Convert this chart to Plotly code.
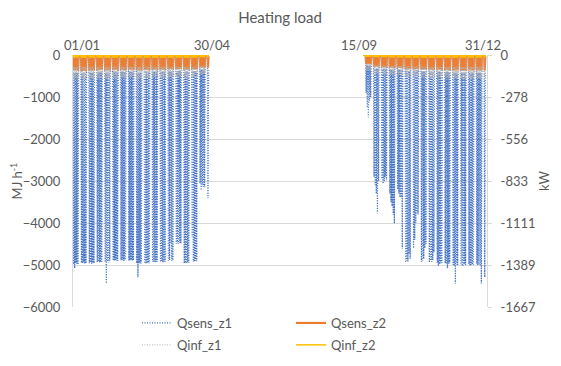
import datetime as dt
import plotly.graph_objects as go

BASE = dt.date(2018, 1, 1)

# Heating seasons (plant operates Monday-Friday, off at weekends)
spring_first, spring_last = dt.date(2018, 1, 1), dt.date(2018, 4, 30)
autumn_first, autumn_last = dt.date(2018, 9, 15), dt.date(2018, 12, 31)

# ---- Qsens_z1 : daily minimum (MJ/h) for each week, Mon..Fri ----
qsens_z1_min_spring = [
    [-4980, -5080, -4950, -4970, -4990],
    [-4950, -4960, -4940, -4970, -4960],
    [-4960, -4940, -4970, -4950, -4960],
    [-4930, -4920, -4940, -4930, -4920],
    [-4930, -5440, -4920, -4940, -4900],
    [-4890, -4900, -4880, -4890, -4900],
    [-4890, -4880, -4900, -4890, -4880],
    [-4900, -4890, -4880, -4900, -4890],
    [-4960, -5290, -4950, -4970, -4960],
    [-4960, -4970, -4960, -4950, -4960],
    [-4930, -4940, -4930, -4920, -4930],
    [-4930, -4920, -4940, -4930, -4920],
    [-4900, -4880, -4490, -4900, -4890],
    [-4490, -4480, -4500, -4470, -4490],
    [-4960, -4950, -4960, -4940, -4950],
    [-4340, -4930, -4920, -4900, -4910],
    [-3060, -3220, -3100, -3140, -3150],
    [-3410],
]
qsens_z1_min_autumn = [
    [-900, -1250, -1480, -1100, -1000],
    [-2900, -3100, -3300, -3770, -3000],
    [-2950, -3060, -3000, -2900, -2980],
    [-3300, -3500, -3600, -3800, -4010],
    [-3200, -3300, -3390, -3390, -4610],
    [-4940, -4900, -4920, -4730, -4850],
    [-4600, -4400, -4000, -3770, -3800],
    [-4920, -4900, -4850, -4600, -4500],
    [-4940, -4900, -4920, -4880, -4700],
    [-4950, -5020, -4980, -4960, -4950],
    [-4960, -4980, -5080, -4970, -4960],
    [-5000, -5020, -5440, -4990, -5000],
    [-4990, -5020, -5010, -4980, -5000],
    [-4980, -5020, -5000, -4990, -5010],
    [-4980, -5000, -4990, -5020, -5440],
    [-5290],
]
# Qsens_z1 : daily upper level per week
qsens_z1_top_spring = [-420, -430, -420, -410, -420, -410, -400, -400, -420, -410,
                       -400, -400, -390, -380, -400, -380, -350, -360]
qsens_z1_top_autumn = [-250, -330, -330, -350, -350, -380, -370, -390, -400, -400,
                       -410, -420, -420, -420, -420, -420]

# ---- Qsens_z2 : weekly low / high (MJ/h) ----
qsens_z2_min_spring = [-370, -380, -370, -360, -370, -360, -360, -350, -370, -360,
                       -350, -350, -340, -330, -350, -330, -300, -300]
qsens_z2_top_spring = [-20, -20, -20, -20, -20, -20, -20, -20, -20, -20,
                       -20, -20, -20, -20, -20, -20, -20, -20]
qsens_z2_min_autumn = [-220, -280, -290, -310, -310, -340, -330, -340, -350, -350,
                       -360, -370, -370, -370, -370, -370]
qsens_z2_top_autumn = [-20, -20, -20, -20, -20, -20, -20, -20, -20, -20,
                       -20, -20, -20, -20, -20, -20]

# ---- Qinf_z1 : weekly low / high (MJ/h) ----
qinf_z1_min_spring = [-560, -570, -560, -550, -560, -550, -540, -540, -560, -550,
                      -540, -540, -530, -520, -540, -520, -460, -480]
qinf_z1_top_spring = [-280, -280, -280, -280, -280, -280, -280, -280, -280, -280,
                      -280, -280, -280, -280, -280, -280, -260, -260]
qinf_z1_min_autumn = [-360, -440, -440, -470, -470, -510, -500, -520, -540, -540,
                      -540, -550, -550, -550, -560, -560]
qinf_z1_top_autumn = [-200, -240, -250, -260, -260, -270, -270, -280, -280, -280,
                      -280, -280, -280, -280, -280, -280]

# ---- Qinf_z2 : weekly low / high (MJ/h) ----
qinf_z2_min_spring = [-60, -60, -60, -60, -60, -60, -60, -60, -60, -60,
                      -60, -60, -60, -60, -60, -60, -50, -50]
qinf_z2_top_spring = [0, 0, 0, 0, 0, 0, 0, 0, 0, 0, 0, 0, 0, 0, 0, 0, 0, 0]
qinf_z2_min_autumn = [-40, -50, -50, -55, -55, -60, -60, -60, -60, -60,
                      -60, -60, -60, -60, -60, -60]
qinf_z2_top_autumn = [0, 0, 0, 0, 0, 0, 0, 0, 0, 0, 0, 0, 0, 0, 0, 0]

# Axis labels
date_labels = ["01/01", "30/04", "15/09", "31/12"]
label_dates = [dt.date(2018, 1, 1), dt.date(2018, 4, 30), dt.date(2018, 9, 15), dt.date(2018, 12, 31)]
label_xshift = [8, 4, -5, -2]
mj_ticks = [0, -1000, -2000, -3000, -4000, -5000, -6000]
kw_tick_labels = ["0", "-278", "-556", "-833", "-1111", "-1389", "-1667"]
MJ_PER_KWH = 3.6


def season(first, last, week_min, week_top, daily):
    xs, ys = [], []
    first_monday = first + dt.timedelta(days=(7 - first.weekday()) % 7)
    d = first
    while d <= last:
        doy = (d - BASE).days
        wd = d.weekday()
        if wd >= 5:
            xs += [doy + 0.02, doy + 0.98]
            ys += [0, 0]
        else:
            w = (d - first_monday).days // 7
            low = week_min[w][wd] if daily else week_min[w]
            top = week_top[w]
            xs += [doy + 0.02, doy + 0.5, doy + 0.98]
            ys += [top, low, top]
        d += dt.timedelta(days=1)
    return xs, ys


def full_series(mins_s, tops_s, mins_a, tops_a, daily=False):
    x1, y1 = season(spring_first, spring_last, mins_s, tops_s, daily)
    x2, y2 = season(autumn_first, autumn_last, mins_a, tops_a, daily)
    return x1 + [None] + x2, y1 + [None] + y2


series_defs = [
    ("Qsens_z1", full_series(qsens_z1_min_spring, qsens_z1_top_spring,
                             qsens_z1_min_autumn, qsens_z1_top_autumn, daily=True),
     dict(color="#4472C4", width=1.3, dash="1px,1.5px"), "legend"),
    ("Qsens_z2", full_series(qsens_z2_min_spring, qsens_z2_top_spring,
                             qsens_z2_min_autumn, qsens_z2_top_autumn),
     dict(color="#ED7D31", width=2.2), "legend2"),
    ("Qinf_z1", full_series(qinf_z1_min_spring, qinf_z1_top_spring,
                            qinf_z1_min_autumn, qinf_z1_top_autumn),
     dict(color="#B4B4B4", width=1.0, dash="1px,1.5px"), "legend"),
    ("Qinf_z2", full_series(qinf_z2_min_spring, qinf_z2_top_spring,
                            qinf_z2_min_autumn, qinf_z2_top_autumn),
     dict(color="#FFC000", width=1.5), "legend2"),
]

fig = go.Figure()
for name, (xs, ys), line, leg in series_defs:
    fig.add_trace(go.Scatter(x=xs, y=ys, name=name, mode="lines", line=line,
                             legend=leg, legendgroup=name, hoverinfo="skip"))
# empty trace so that the secondary (kW) axis is drawn
fig.add_trace(go.Scatter(x=[None], y=[None], yaxis="y2", showlegend=False, hoverinfo="skip"))

FONT = "Lato, Liberation Sans, Arial, sans-serif"
GRAY = "#595959"
label_pos = [(d - BASE).days + 0.5 for d in label_dates]

annotations = [
    dict(text=t, x=p, xref="x", y=1, yref="paper", yanchor="bottom", xanchor="center",
         xshift=s, yshift=0, showarrow=False, font=dict(size=13, color=GRAY))
    for t, p, s in zip(date_labels, label_pos, label_xshift)
]

# page body has an 8px default margin: figure is 8px smaller and shifted
fig.update_layout(
    width=553, height=358,
    margin=dict(l=65, r=74, t=47, b=59, autoexpand=False),
    paper_bgcolor="white", plot_bgcolor="white",
    font=dict(family=FONT, size=12, color=GRAY),
    title=dict(text="Heating load", x=(280 - 8) / 553, xanchor="center",
               y=1 - 10 / 358, yanchor="middle", font=dict(size=15, color=GRAY)),
    annotations=annotations,
    xaxis=dict(range=[0, 366.5], showticklabels=False, automargin=False,
               showgrid=False, zeroline=False, showline=False, ticks=""),
    yaxis=dict(range=[-6000, 0], tickvals=mj_ticks, showgrid=True, gridcolor="#D9D9D9",
               zeroline=False, showline=True, linecolor="#D9D9D9", ticks="", automargin=False,
               ticklabelstandoff=9, tickfont=dict(size=13),
               title=dict(text="MJ h<sup>-1</sup>", standoff=6, font=dict(size=13, color=GRAY))),
    yaxis2=dict(range=[-6000 / MJ_PER_KWH, 0], overlaying="y", side="right", anchor="x",
                tickvals=[v / MJ_PER_KWH for v in mj_ticks], ticktext=kw_tick_labels,
                showgrid=False, zeroline=False, showline=True, linecolor="#D9D9D9",
                ticks="outside", ticklen=4, tickcolor="#D9D9D9", ticklabelstandoff=6,
                automargin=False, tickfont=dict(size=13),
                title=dict(text="kW", standoff=4, font=dict(size=13, color=GRAY))),
    legend=dict(x=(137 - 73) / 414, y=-1 / 252, xanchor="left", yanchor="top",
                bgcolor="rgba(0,0,0,0)", tracegroupgap=2, font=dict(size=13, color=GRAY)),
    legend2=dict(x=(291 - 73) / 414, y=-1 / 252, xanchor="left", yanchor="top",
                 bgcolor="rgba(0,0,0,0)", tracegroupgap=2, font=dict(size=13, color=GRAY)),
)

fig.write_html("out.html")
